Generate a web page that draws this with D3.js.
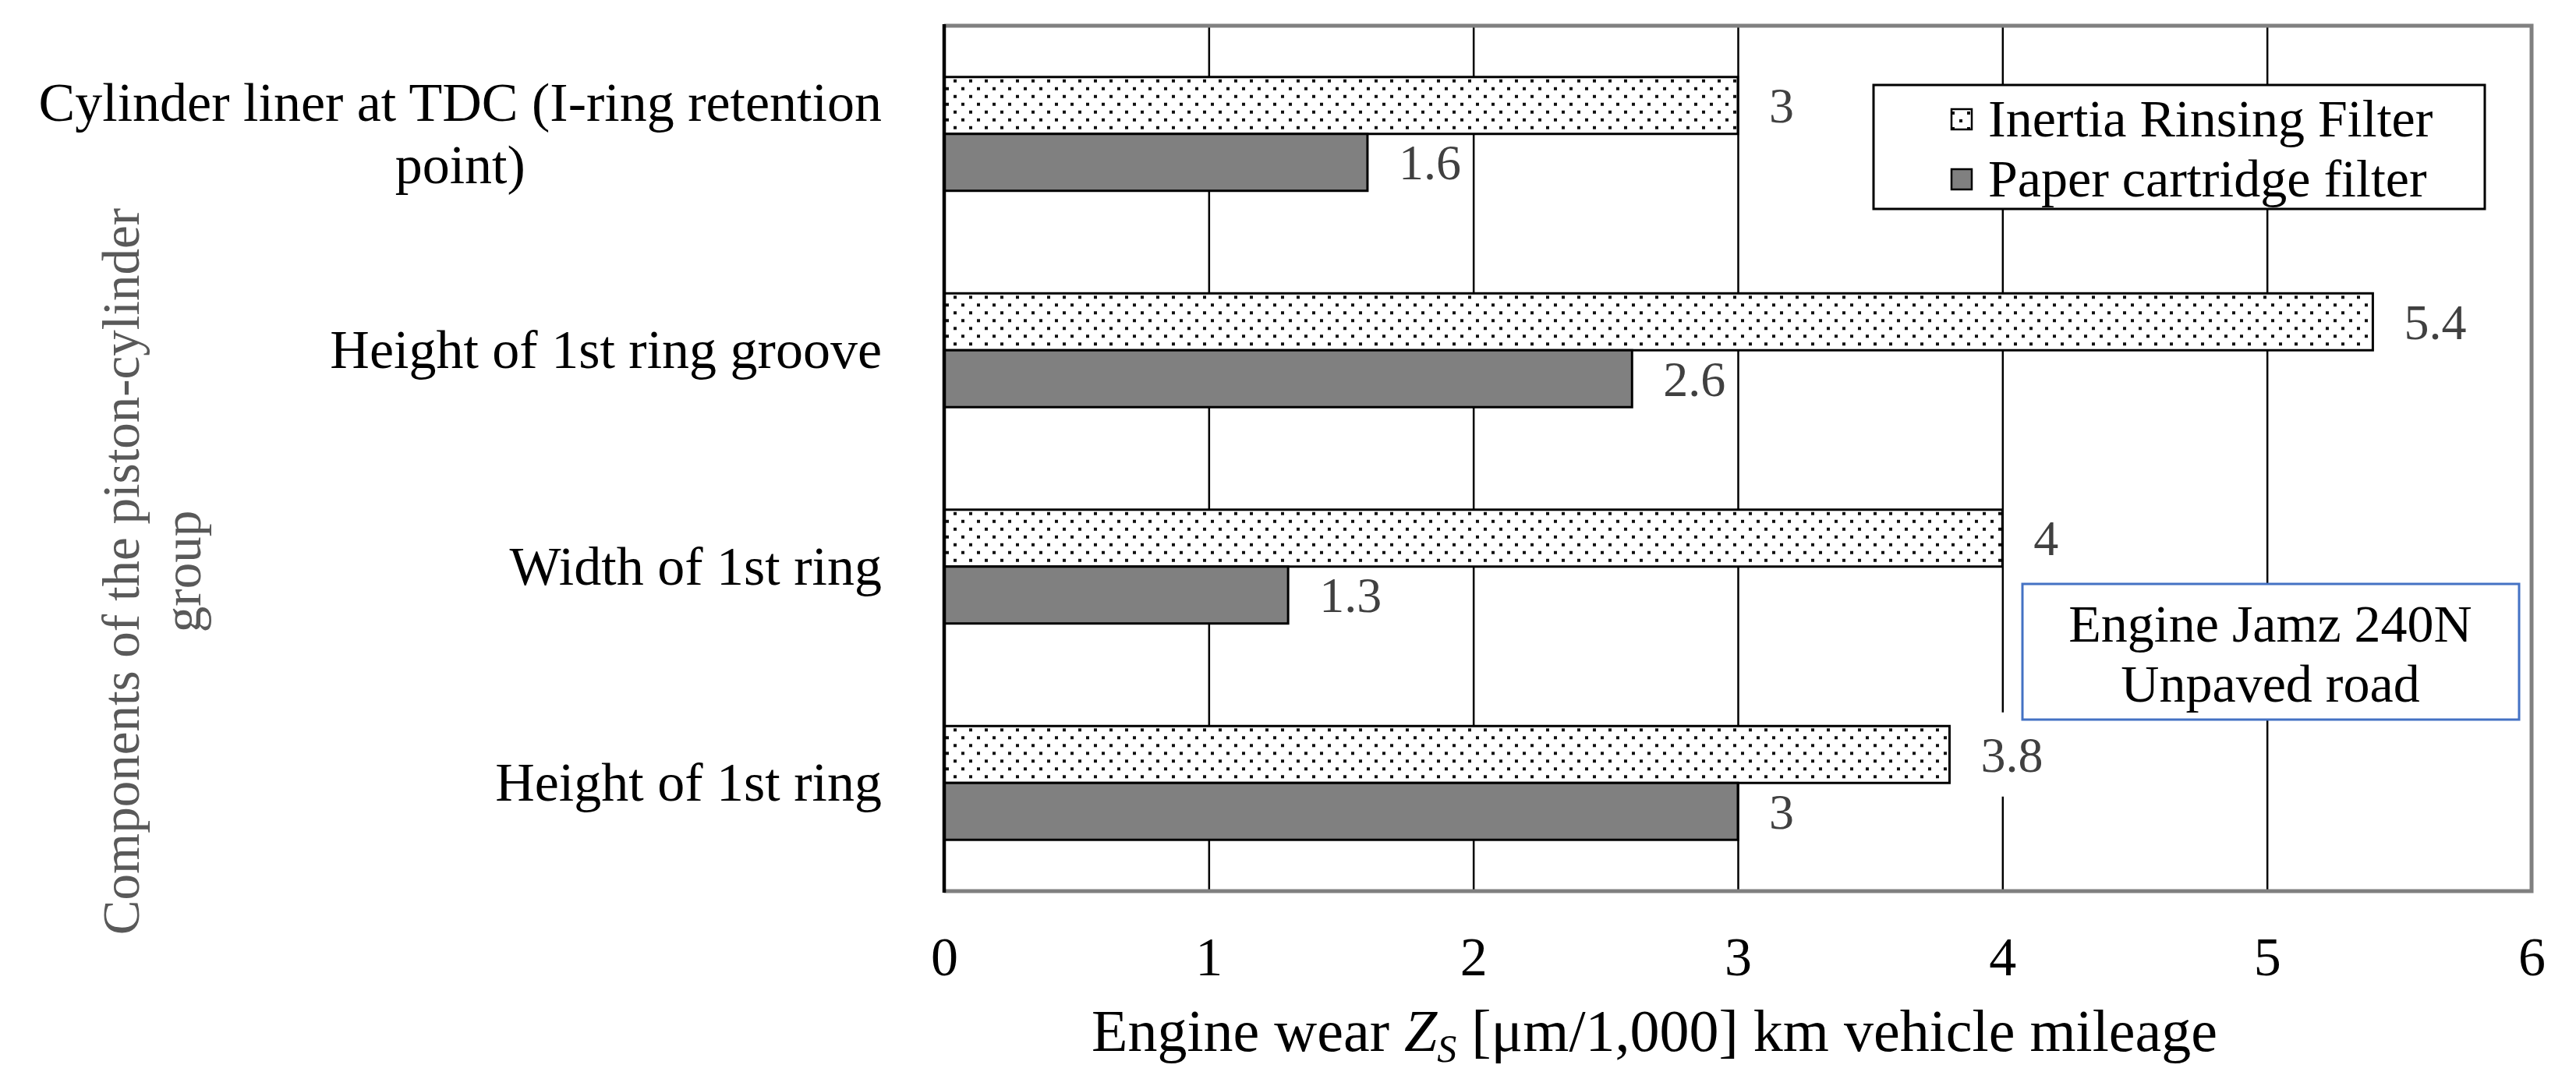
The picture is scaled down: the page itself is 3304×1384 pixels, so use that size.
<!DOCTYPE html>
<html>
<head>
<meta charset="utf-8">
<script src="https://cdn.jsdelivr.net/npm/d3@7"></script>
<style>
  html, body { margin: 0; padding: 0; background: #fff; }
  svg { display: block; }
  text { font-family: "Liberation Serif", "Times New Roman", serif; }
</style>
</head>
<body>
<svg id="chart" width="3304" height="1384"></svg>
<script>
// ---- data ----
const categories = [
  "Cylinder liner at TDC (I-ring retention point)",
  "Height of 1st ring groove",
  "Width of 1st ring",
  "Height of 1st ring"
];
const categoryLines = [
  ["Cylinder liner at TDC (I-ring retention", "point)"],
  ["Height of 1st ring groove"],
  ["Width of 1st ring"],
  ["Height of 1st ring"]
];
const seriesNames = ["Inertia Rinsing Filter", "Paper cartridge filter"];
const inertiaValues = [3, 5.4, 4, 3.8];
const paperValues = [1.6, 2.6, 1.3, 3];
const xTicks = [0, 1, 2, 3, 4, 5, 6];
const xTitleParts = ["Engine wear ", "Z", "S", " [μm/1,000] km vehicle mileage"];
const yTitleLines = ["Components of the piston-cylinder", "group"];
const noteLines = ["Engine Jamz 240N", "Unpaved road"];

// ---- layout ----
const svg = d3.select("#chart");
const L = 1211, R = 3247, T = 33, B = 1143;

const x = d3.scaleLinear().domain([0, 6]).range([L, R]);
const y = d3.scaleBand().domain(categories).range([T, B])
  .paddingInner(0.474).paddingOuter(0.237);
const ySub = d3.scaleBand().domain(seriesNames).range([0, y.bandwidth()]);

// pattern for dotted bars
const defs = svg.append("defs");
const pat = defs.append("pattern").attr("id", "dots")
  .attr("patternUnits", "userSpaceOnUse")
  .attr("width", 20).attr("height", 20);
pat.append("rect").attr("width", 20).attr("height", 20).attr("fill", "#fff");
pat.append("rect").attr("x", 3).attr("y", 3).attr("width", 4).attr("height", 4).attr("fill", "#111");
pat.append("rect").attr("x", 13).attr("y", 13).attr("width", 4).attr("height", 4).attr("fill", "#111");

const fills = { "Inertia Rinsing Filter": "url(#dots)", "Paper cartridge filter": "#808080" };

// gridlines + tick labels via axis
const xAxis = d3.axisBottom(x).tickValues(xTicks).tickFormat(d3.format("d"))
  .tickSize(-(B - T)).tickPadding(58);
const gx = svg.append("g").attr("transform", `translate(0,${B})`).call(xAxis);
gx.select(".domain").remove();
gx.selectAll(".tick line").attr("stroke", "#000").attr("stroke-width", 2.5)
  .attr("display", d => (d === 0 || d === 6) ? "none" : null);
gx.selectAll(".tick text").attr("fill", "#000").attr("font-size", 70)
  .attr("font-family", "Liberation Serif, Times New Roman, serif");

// rows
const rows = categories.map((c, i) => ({
  cat: c,
  vals: [
    { s: seriesNames[0], v: inertiaValues[i] },
    { s: seriesNames[1], v: paperValues[i] }
  ]
}));

// layers: label backgrounds, bars, label texts
const bgLayer = svg.append("g");
const barLayer = svg.append("g");
const txtLayer = svg.append("g");

const groupsBar = barLayer.selectAll("g").data(rows).join("g")
  .attr("transform", d => `translate(0,${y(d.cat)})`);
groupsBar.selectAll("rect").data(d => d.vals).join("rect")
  .attr("x", x(0))
  .attr("y", d => ySub(d.s))
  .attr("width", d => x(d.v) - x(0))
  .attr("height", ySub.bandwidth())
  .attr("fill", d => fills[d.s])
  .attr("stroke", "#000")
  .attr("stroke-width", 3);

const groupsTxt = txtLayer.selectAll("g").data(rows).join("g")
  .attr("transform", d => `translate(0,${y(d.cat)})`);
const texts = groupsTxt.selectAll("text").data(d => d.vals).join("text")
  .attr("x", d => x(d.v) + 40)
  .attr("y", d => ySub(d.s) + ySub.bandwidth() / 2 + 22)
  .attr("font-size", 64)
  .attr("fill", "#404040")
  .text(d => d3.format("")(d.v));

const groupsBg = bgLayer.selectAll("g").data(rows).join("g")
  .attr("transform", d => `translate(0,${y(d.cat)})`);
groupsBg.each(function(row, ri) {
  const g = d3.select(this);
  row.vals.forEach((d, k) => {
    const w = texts.filter((t, idx, nodes) => nodes[idx].parentNode === groupsTxt.nodes()[ri])
      .filter((t) => t === d).node().getComputedTextLength();
    g.append("rect")
      .attr("x", x(d.v) + 28)
      .attr("y", ySub(d.s) + ySub.bandwidth() / 2 - 54)
      .attr("width", w + 18)
      .attr("height", 108)
      .attr("fill", "#fff");
  });
});

// plot frame
svg.append("path")
  .attr("d", `M${L},${T}H${R}V${B}H${L}`)
  .attr("fill", "none").attr("stroke", "#808080").attr("stroke-width", 5);
svg.append("line").attr("x1", L).attr("x2", L).attr("y1", T - 2).attr("y2", B + 2)
  .attr("stroke", "#000").attr("stroke-width", 4.5);

// category labels
const labelRight = 1131;
const catG = svg.append("g");
categories.forEach((c, i) => {
  const lines = categoryLines[i];
  const cy = y(c) + y.bandwidth() / 2;
  const n = lines.length;
  const tmp = lines.map((ln, j) => catG.append("text")
    .attr("font-size", 70).attr("fill", "#000").attr("text-anchor", "middle")
    .attr("y", cy + (j - (n - 1) / 2) * 80 + 23)
    .text(ln));
  const maxW = d3.max(tmp, t => t.node().getComputedTextLength());
  tmp.forEach(t => t.attr("x", labelRight - maxW / 2));
});

// y axis title
const yt = svg.append("g").attr("transform", "translate(0,733) rotate(-90)");
yTitleLines.forEach((ln, j) => {
  yt.append("text").attr("x", 0).attr("y", 178 + j * 79)
    .attr("text-anchor", "middle").attr("font-size", 67).attr("fill", "#595959")
    .text(ln);
});

// x axis title
const xt = svg.append("text").attr("x", 2122).attr("y", 1348)
  .attr("text-anchor", "middle").attr("font-size", 76).attr("fill", "#000");
xt.append("tspan").text(xTitleParts[0]);
xt.append("tspan").attr("font-style", "italic").text(xTitleParts[1]);
xt.append("tspan").attr("font-style", "italic").attr("font-size", 50).attr("dy", 14).text(xTitleParts[2]);
xt.append("tspan").attr("dy", -14).text(xTitleParts[3]);

// legend
const lg = svg.append("g");
lg.append("rect").attr("x", 2403).attr("y", 109).attr("width", 784).attr("height", 159)
  .attr("fill", "#fff").attr("stroke", "#000").attr("stroke-width", 3);
seriesNames.forEach((s, i) => {
  const cy = 152 + i * 77;
  lg.append("rect").attr("x", 2503).attr("y", cy - 12).attr("width", 26).attr("height", 26)
    .attr("fill", fills[s]).attr("stroke", "#000").attr("stroke-width", 2.5);
  lg.append("text").attr("x", 2550).attr("y", cy + 23).attr("font-size", 68).attr("fill", "#000").text(s);
});

// note box
const ng = svg.append("g");
ng.append("rect").attr("x", 2594).attr("y", 749).attr("width", 637).attr("height", 174)
  .attr("fill", "#fff").attr("stroke", "#4472C4").attr("stroke-width", 3);
noteLines.forEach((ln, j) => {
  ng.append("text").attr("x", 2912).attr("y", 800 + j * 77 + 23)
    .attr("text-anchor", "middle").attr("font-size", 68).attr("fill", "#000").text(ln);
});
</script>
</body>
</html>
